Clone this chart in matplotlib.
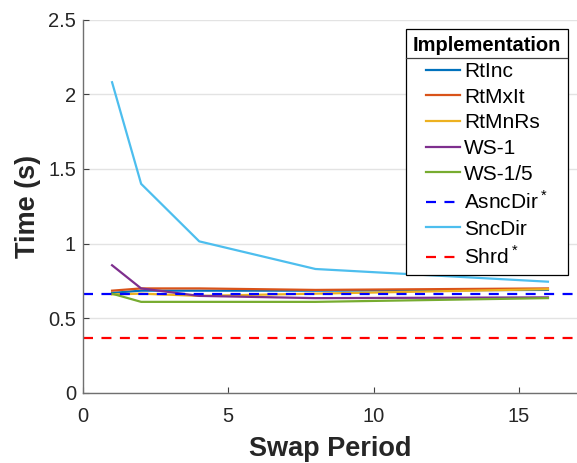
import numpy as np
import matplotlib.pyplot as plt
from matplotlib.lines import Line2D

plt.rcParams['font.family'] = ['Liberation Sans', 'DejaVu Sans']
plt.rcParams['mathtext.fontset'] = 'custom'
plt.rcParams['mathtext.rm'] = 'Liberation Sans'

swap = [1, 2, 4, 8, 16]
rtinc = [0.67, 0.685, 0.685, 0.685, 0.69]
rtmxit = [0.685, 0.70, 0.70, 0.69, 0.70]
rtmnrs = [0.66, 0.665, 0.65, 0.665, 0.695]
ws1 = [0.855, 0.70, 0.65, 0.635, 0.64]
ws15 = [0.665, 0.61, 0.61, 0.61, 0.635]
sncdir = [2.08, 1.40, 1.015, 0.83, 0.745]
asncdir = 0.66
shrd = 0.365

fig = plt.figure(figsize=(5.77, 4.63), dpi=100)
ax = fig.add_axes([83/577, 70/463, 1 - 83/577, (393 - 19.5)/463])

lw = 1.6
dash = (0, (4.5, 3.8))
ax.plot(swap, rtinc, color='#0072BD', lw=lw, label='RtInc')
ax.plot(swap, rtmxit, color='#D95319', lw=lw, label='RtMxIt')
ax.plot(swap, rtmnrs, color='#EDB120', lw=lw, label='RtMnRs')
ax.plot(swap, ws1, color='#7E2F8E', lw=lw, label='WS-1')
ax.plot(swap, ws15, color='#77AC30', lw=lw, label='WS-1/5')
ax.axhline(asncdir, color='#0000FF', lw=lw, ls=dash, label='AsncDir$^*$')
ax.plot(swap, sncdir, color='#4DBEEE', lw=lw, label='SncDir')
ax.axhline(shrd, color='#FF0000', lw=lw, ls=dash, label='Shrd$^*$')

ax.set_xlim(0, 17)
ax.set_ylim(0, 2.5)
ax.set_xticks([0, 5, 10, 15])
ax.set_yticks(np.arange(0, 2.51, 0.5))
ax.set_yticklabels(['0', '0.5', '1', '1.5', '2', '2.5'])
ax.grid(axis='y', color='#e3e3e3', lw=1)
ax.set_axisbelow(True)

for s in ['top', 'right']:
    ax.spines[s].set_visible(False)
for s in ['left', 'bottom']:
    ax.spines[s].set_color('#707070')
    ax.spines[s].set_linewidth(1.0)
ax.tick_params(direction='in', length=4, width=0.8, color='#404040',
               labelsize=14.5, labelcolor='#262626')
ax.tick_params(axis='x', pad=10)
ax.tick_params(axis='y', pad=5)

ax.set_xlabel('Swap Period', fontsize=19.5, fontweight='bold', color='#262626', labelpad=7)
ax.set_ylabel('Time (s)', fontsize=19.5, fontweight='bold', color='#262626', labelpad=5)

leg = ax.legend(loc='upper left', bbox_to_anchor=(405.5/577, (463 - 29)/463),
                bbox_transform=fig.transFigure, borderaxespad=0,
                title='Implementation', fontsize=15,
                title_fontproperties={'weight': 'bold', 'size': 14.5},
                frameon=True, fancybox=False, framealpha=1, edgecolor='black',
                handlelength=1.6, handletextpad=0.2, labelspacing=0.32,
                borderpad=0.35)
leg.get_frame().set_linewidth(0.9)

fig.add_artist(Line2D([405.5/577, 567/577], [(463 - 57.5)/463] * 2,
                      transform=fig.transFigure, color='#404040', lw=0.9))

fig.savefig('out.png', dpi=100)
